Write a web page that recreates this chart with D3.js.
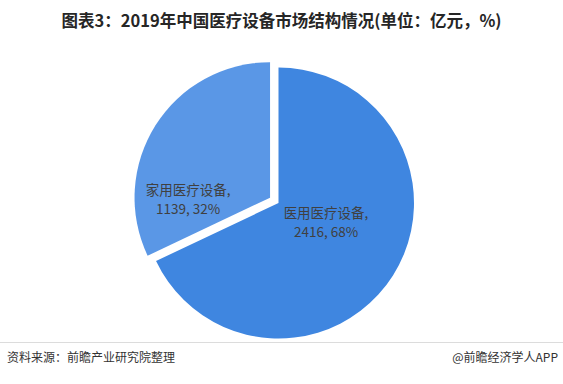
<!DOCTYPE html>
<html>
<head>
<meta charset="utf-8">
<script src="https://cdn.jsdelivr.net/npm/d3@7"></script>
<style>
  body { margin: 0; background: #fff; }
  text { font-family: "Noto Sans CJK SC", "Noto Sans", sans-serif; }
</style>
</head>
<body>
<svg width="563" height="384"></svg>
<script>
var svg = d3.select("svg");
var width = +svg.attr("width");
var height = +svg.attr("height");

// data
var categories = ["医用医疗设备", "家用医疗设备"];
var values = [2416, 1139];
var shares = [68, 32];
var colors = ["#3f86e0", "#5a97e6"];

var cx = 278.5, cy = 203, R = 135.5;

// title
svg.append("text")
    .attr("x", width / 2)
    .attr("y", 27)
    .attr("text-anchor", "middle")
    .style("font-size", "16.5px")
    .style("font-weight", "bold")
    .attr("fill", "#262626")
    .text("图表3：2019年中国医疗设备市场结构情况(单位：亿元，%)");

var pie = d3.pie().sort(null).value(d => d.value);
var arc = d3.arc().innerRadius(0).outerRadius(R);

var data = categories.map((c, i) => ({ name: c, value: values[i], share: shares[i], color: colors[i] }));
var arcs = pie(data);

// explode offset for the smaller slice
var explode = [0, 10];
// label offsets from centre (as drawn in the original)
var labelPos = [[47.5, 15], [-82, -3]];

var g = svg.append("g").attr("transform", `translate(${cx},${cy})`);

var slice = g.selectAll(".slice")
    .data(arcs)
    .enter().append("g")
    .attr("class", "slice")
    .attr("transform", (d, i) => {
        var a = (d.startAngle + d.endAngle) / 2;
        return `translate(${Math.sin(a) * explode[i]},${-Math.cos(a) * explode[i]})`;
    });

slice.append("path")
    .attr("d", arc)
    .attr("fill", d => d.data.color);

var lbl = slice.append("text")
    .attr("text-anchor", "middle")
    .attr("fill", "#404040")
    .style("font-size", "13.5px")
    .attr("transform", (d, i) => `translate(${labelPos[i][0]},${labelPos[i][1]})`);

lbl.append("tspan")
    .attr("x", 0).attr("dy", 0)
    .text(d => d.data.name + ",");
lbl.append("tspan")
    .attr("x", 0).attr("dy", 19)
    .text(d => d3.format("d")(d.data.value) + ", " + d.data.share + "%");

// footer
svg.append("line")
    .attr("x1", 0).attr("x2", width)
    .attr("y1", 342.5).attr("y2", 342.5)
    .attr("stroke", "#dcdcdc")
    .attr("stroke-width", 1);

svg.append("text")
    .attr("x", 7).attr("y", 362)
    .style("font-size", "12px")
    .attr("fill", "#333")
    .text("资料来源：前瞻产业研究院整理");

svg.append("text")
    .attr("x", width - 5).attr("y", 362)
    .attr("text-anchor", "end")
    .style("font-size", "12px")
    .attr("fill", "#333")
    .text("@前瞻经济学人APP");
</script>
</body>
</html>
